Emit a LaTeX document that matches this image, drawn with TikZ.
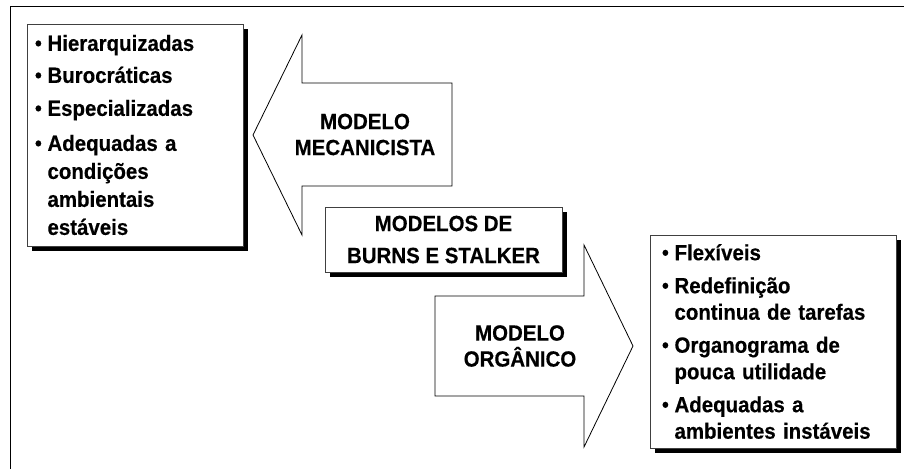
\documentclass[tikz,border=0pt]{standalone}
\usepackage{fontspec}
\setmainfont{Liberation Sans}[FakeStretch=0.93, FakeBold=0.35]
\usetikzlibrary{shadows}
\pgfdeclarelayer{edgelayer}
\pgfdeclarelayer{nodelayer}
\pgfsetlayers{edgelayer,nodelayer,main}
\tikzstyle{list_box}=[draw=black!75, fill=white, line width=0.8pt, inner sep=0pt, align=left, drop shadow={shadow xshift=5pt, shadow yshift=-5pt, fill=black, opacity=1}]
\tikzstyle{title_box}=[draw=black!75, fill=white, line width=0.8pt, inner sep=0pt, align=center, drop shadow={shadow xshift=5pt, shadow yshift=-5pt, fill=black, opacity=1}, font=\bfseries\fontsize{22}{27}\selectfont]
\tikzstyle{arrow_text}=[align=center, inner sep=0pt, font=\bfseries\fontsize{22}{26}\selectfont]
\tikzstyle{block_arrow}=[draw=black, fill=white, line width=0.8pt, line join=miter]
\tikzstyle{frame_line}=[draw=black, line width=1pt]
\newcommand{\bul}{\makebox[12.5pt][l]{\raisebox{0.5pt}{\scalebox{0.95}{\textbullet}}}}
\newcommand{\ind}{\hspace*{12.5pt}}

\begin{document}
\begin{tikzpicture}[x=1pt, y=-1pt]
	\useasboundingbox (0, 0) rectangle (904, 469);
	\begin{pgfonlayer}{nodelayer}
		\node [style={list_box}, text width=200pt, minimum width=216pt, minimum height=222pt, font=\bfseries\fontsize{22}{28}\selectfont] (0) at (135, 135) {\bul Hierarquizadas\\[4pt]\bul Burocráticas\\[5pt]\bul Especializadas\\[7pt]\bul Adequadas a\\\ind condições\\\ind ambientais\\\ind estáveis};
		\node [style={title_box}, minimum width=237pt, minimum height=65pt] (1) at (443.5, 239.5) {MODELOS DE\\[5pt]BURNS E STALKER};
		\node [style={list_box}, text width=222pt, minimum width=246pt, minimum height=213pt, font=\bfseries\fontsize{22}{26.5}\selectfont] (2) at (773, 341.5) {\bul Flexíveis\\[6.5pt]\bul Redefinição\\\ind continua de tarefas\\[6.5pt]\bul Organograma de\\\ind pouca utilidade\\[6.5pt]\bul Adequadas a\\\ind ambientes instáveis};
		\node [style={arrow_text}] (3) at (365, 134.5) {MODELO\\MECANICISTA};
		\node [style={arrow_text}] (4) at (520, 346) {MODELO\\ORGÂNICO};
	\end{pgfonlayer}
	\begin{pgfonlayer}{edgelayer}
		\draw [style={frame_line}] (904, 6) -- (10, 6) -- (10, 469);
		\draw [style={block_arrow}] (253, 135) -- (302, 35) -- (302, 83) -- (452, 83) -- (452, 186) -- (302, 186) -- (302, 235) -- cycle;
		\draw [style={block_arrow}] (633, 346) -- (584, 245) -- (584, 296) -- (435, 296) -- (435, 396) -- (584, 396) -- (584, 447) -- cycle;
	\end{pgfonlayer}
\end{tikzpicture}
\end{document}
